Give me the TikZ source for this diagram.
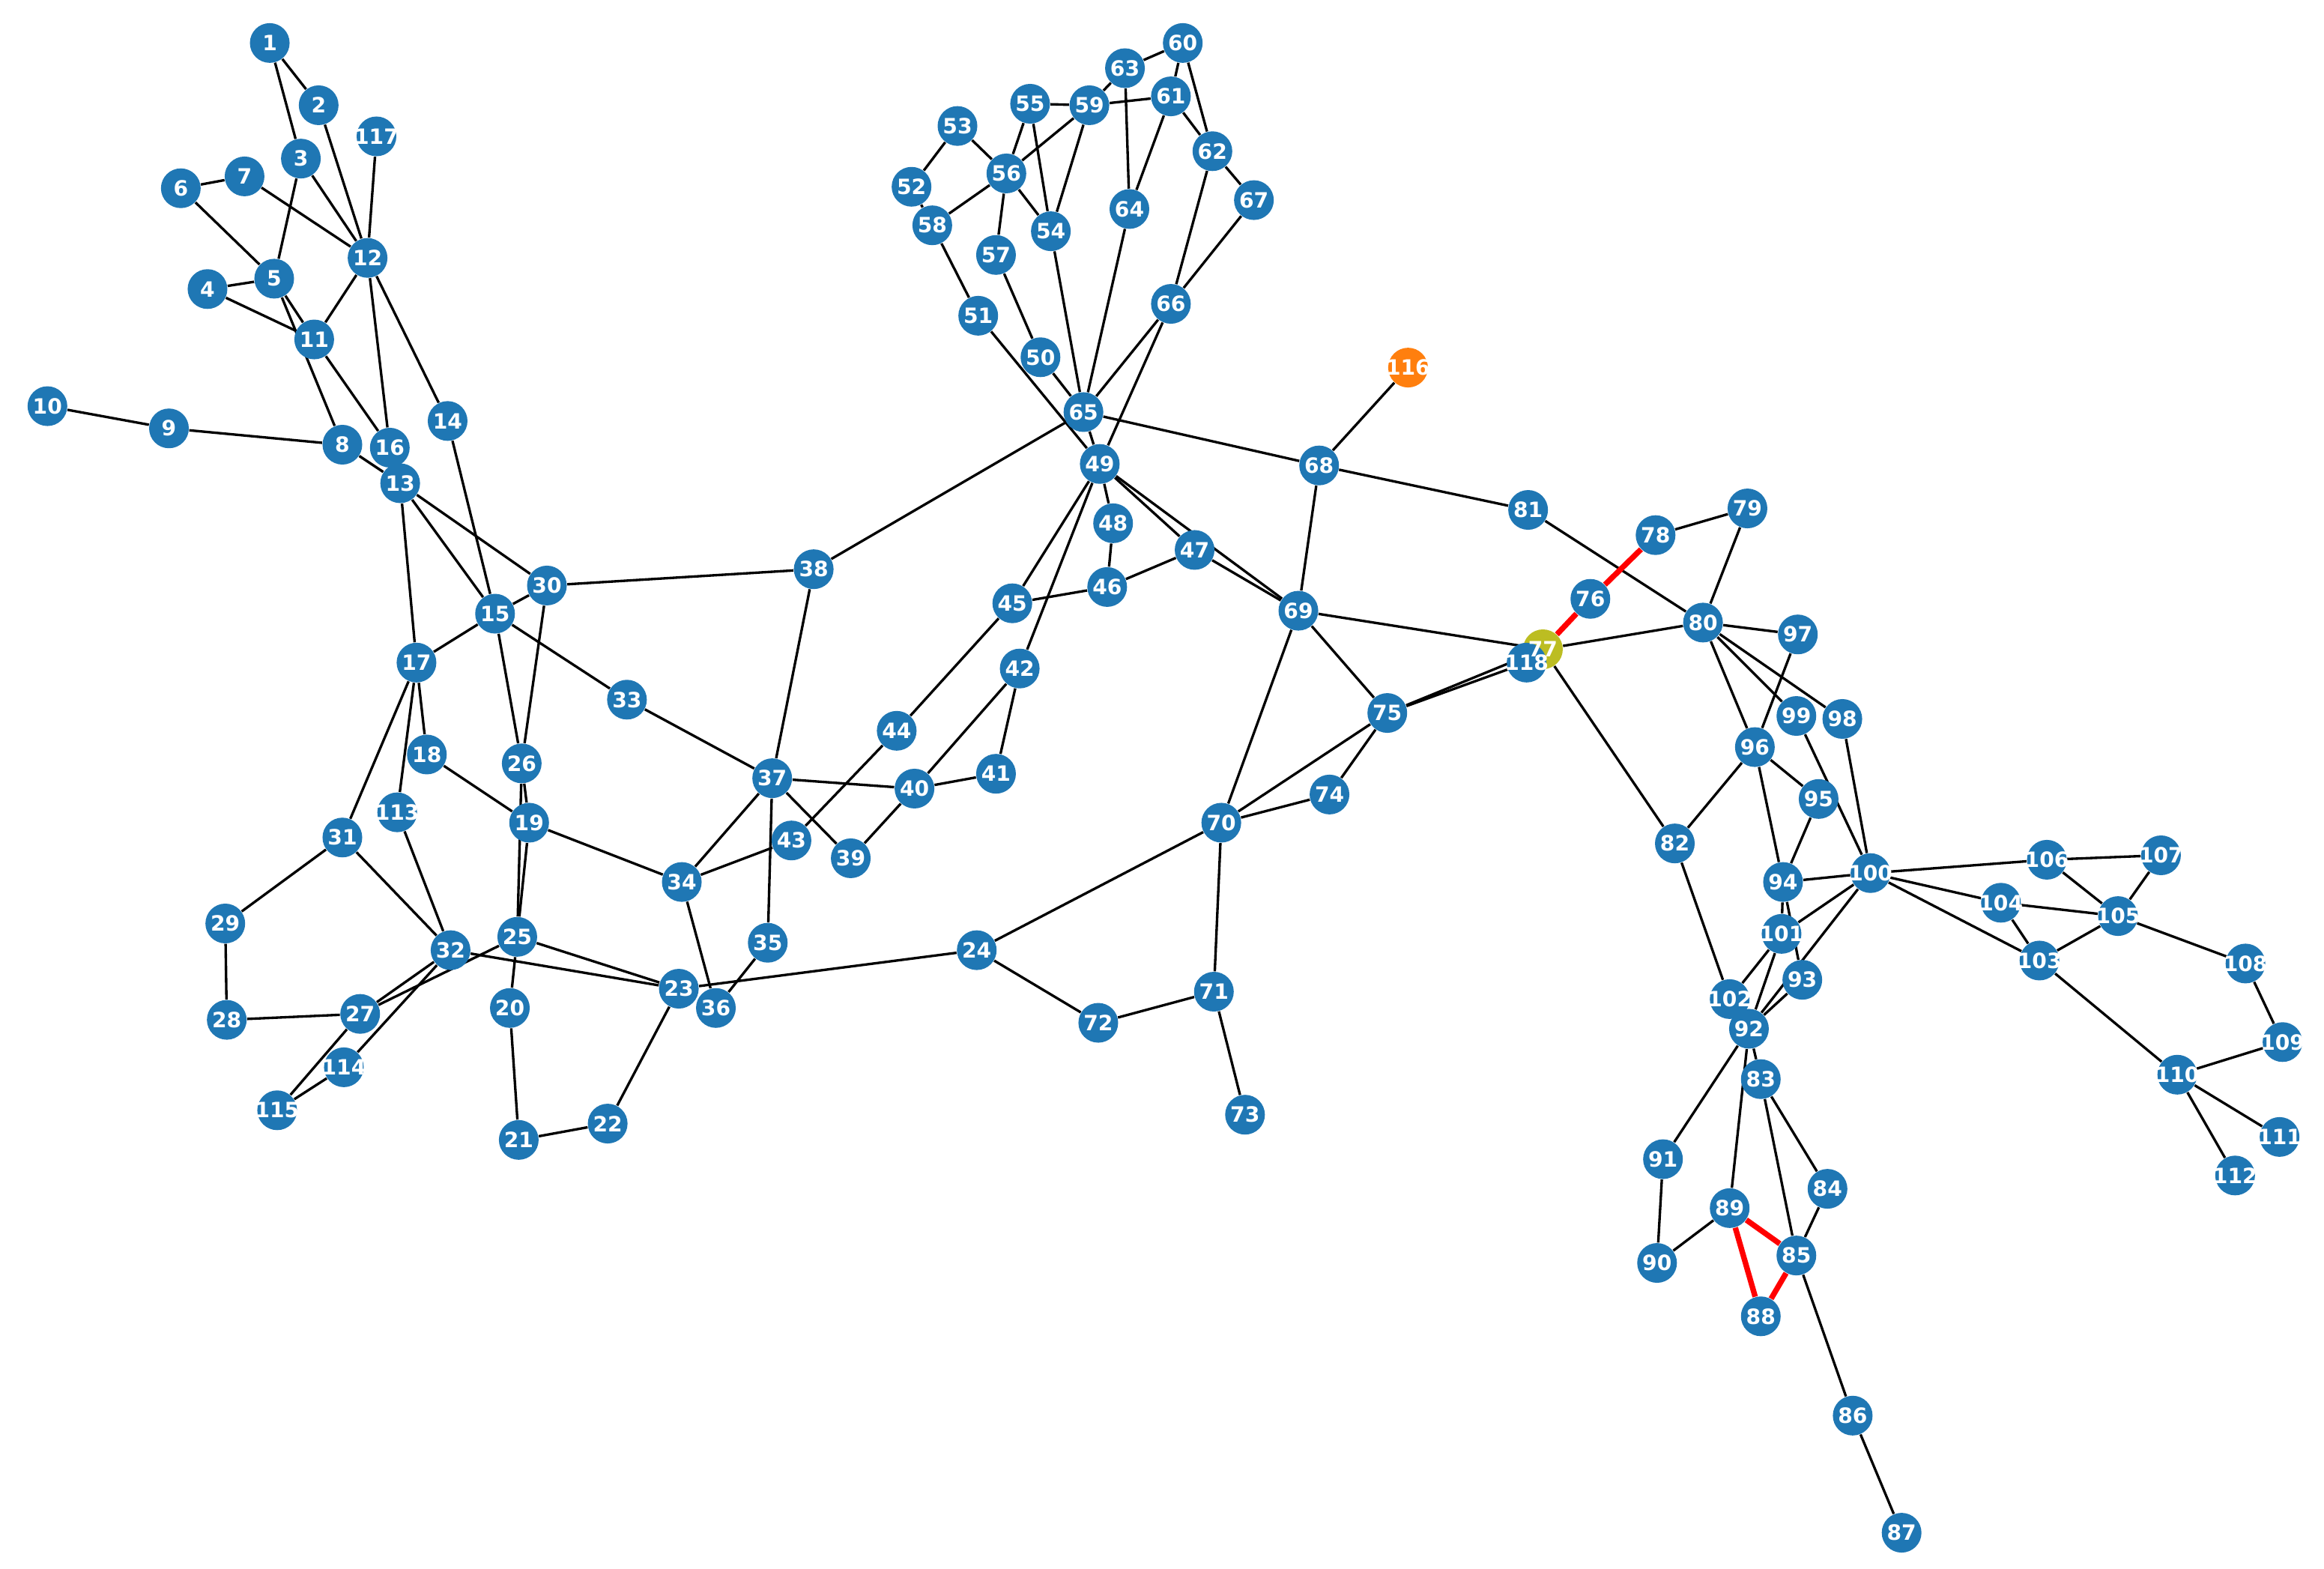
\documentclass[tikz,border=0pt]{standalone}
\usepackage{fontspec}
\newfontfamily\lblfont{DejaVu Sans}
\usetikzlibrary{backgrounds}
\definecolor{nodeblue}{HTML}{1F77B4}
\definecolor{nodeorange}{HTML}{FF7F0E}
\definecolor{nodeolive}{HTML}{BCBD22}
\definecolor{pathred}{HTML}{FF0000}

\begin{document}
\begin{tikzpicture}[
  x=0.01978cm, y=-0.01978cm,
  vtx/.style={circle, fill=nodeblue, minimum size=0.53cm, inner sep=0pt},
  vtxlbl/.style={text=white, inner sep=0pt, font=\lblfont\bfseries\fontsize{8}{9}\selectfont},
  link/.style={line width=0.95pt, black},
  redlink/.style={line width=2.1pt, pathred},
]
  \useasboundingbox (0,0) rectangle (1568,1058);
  % vertices (77, 116 and 118 come last, 118 on top of 77)
  \foreach \i/\px/\py in {1/182/29, 2/215/71, 3/203/107, 4/140/195, 5/185/188,
      6/122/127, 7/165/119, 8/231/300, 9/114/289, 10/32/274, 11/212/229,
      12/248/174, 13/270/326, 14/302/284, 15/334/414, 16/263/302, 17/281/447,
      18/288/509, 19/357/555, 20/344/680, 21/350/769, 22/410/758, 23/458/667,
      24/659/641, 25/349/632, 26/352/515, 27/243/684, 28/153/688, 29/152/623,
      30/369/395, 31/231/565, 32/304/641, 33/423/472, 34/460/595, 35/518/636,
      36/483/680, 37/521/525, 38/549/384, 39/574/579, 40/617/532, 41/672/522,
      42/688/451, 43/534/567, 44/605/493, 45/683/407, 46/747/396, 47/806/371,
      48/751/353, 49/742/313, 50/702/241, 51/660/213, 52/615/126, 53/646/85,
      54/709/156, 55/695/70, 56/679/117, 57/672/172, 58/629/152, 59/735/71,
      60/798/29, 61/790/65, 62/818/102, 63/759/46, 64/762/141, 65/731/278,
      66/790/205, 67/846/135, 68/890/314, 69/876/412, 70/824/555, 71/819/669,
      72/741/690, 73/840/752, 74/897/536, 75/936/481, 76/1073/404,
      78/1117/361, 79/1179/343, 80/1149/420, 81/1031/344, 82/1130/569,
      83/1188/728, 84/1233/802, 85/1212/847, 86/1250/955, 87/1283/1034,
      88/1188/888, 89/1167/815, 90/1118/852, 91/1122/782, 92/1180/694,
      93/1216/661, 94/1203/595, 95/1227/539, 96/1184/504, 97/1213/428,
      98/1243/485, 99/1212/483, 100/1262/589, 101/1202/630, 102/1167/674,
      103/1376/648, 104/1350/609, 105/1429/618, 106/1381/580, 107/1458/577,
      108/1515/650, 109/1540/703, 110/1469/725, 111/1538/767, 112/1508/793,
      113/268/548, 114/232/720, 115/187/749, 117/254/92}
    \node[vtx] (n\i) at (\px,\py) {};
  \node[vtx, fill=nodeolive] (n77) at (1041,438) {};
  \node[vtx, fill=nodeorange] (n116) at (950,248) {};
  \node[vtx] (n118) at (1030,447) {};
  % labels
  \foreach \i in {1,...,118}
    \node[vtxlbl] at (n\i) {\i};
  % connectors
  \begin{scope}[on background layer]
    \foreach \a/\b in {1/2, 1/3, 2/12, 3/12, 3/5, 117/12, 6/7, 7/12, 6/5, 4/5,
        4/11, 5/11, 5/8, 12/11, 11/16, 12/16, 12/14, 10/9, 9/8, 8/13,
        13/17, 13/15, 13/30, 14/15, 15/30, 15/17, 15/33, 15/26, 30/26, 30/38,
        17/18, 17/113, 17/31, 18/19, 26/19, 19/25, 26/25,
        31/29, 31/32, 113/32, 29/28, 28/27, 27/32, 27/25, 32/114, 115/27,
        115/114, 32/23, 25/23, 25/20, 20/21, 21/22, 22/23, 23/24, 34/36,
        35/36, 19/34, 34/37, 34/43, 37/35,
        38/65, 38/37, 33/37, 37/40, 37/39, 43/44, 44/45, 45/46, 45/49, 42/49,
        42/40, 42/41, 40/41, 40/39, 24/70, 24/72,
        53/52, 53/56, 52/58, 58/56, 58/51, 56/55, 56/59, 56/54, 56/57, 55/59,
        55/54, 59/54, 59/63, 63/60, 63/64, 59/61, 60/61, 60/62, 61/62, 61/64,
        62/67, 62/66, 67/66, 64/65, 54/65, 50/57, 50/65, 51/49, 66/65, 66/49,
        65/49, 65/68,
        68/116, 68/81, 68/69, 49/48, 48/46, 46/47, 49/47, 49/69, 47/69, 69/77,
        69/70, 69/75, 75/74, 70/75, 70/74, 75/118, 75/77, 70/71, 71/72, 71/73,
        77/80, 77/82, 81/80, 79/78, 79/80, 80/97, 80/96, 80/99, 80/98, 97/96,
        96/82, 96/95, 96/94, 99/100, 98/100, 95/94, 94/100, 94/101, 94/93,
        100/101, 100/92, 93/92, 101/102, 101/92, 82/102, 92/83, 92/91, 92/89,
        83/85, 83/84, 84/85, 91/90, 90/89, 85/86, 86/87,
        100/106, 100/104, 100/103, 106/107, 106/105, 107/105, 104/105,
        104/103, 103/105, 105/108, 108/109, 109/110, 103/110, 110/111, 110/112}
      \draw[link] (n\a) -- (n\b);
    % highlighted path
    \foreach \a/\b in {77/76, 76/78, 89/85, 89/88, 88/85}
      \draw[redlink] (n\a) -- (n\b);
  \end{scope}
\end{tikzpicture}
\end{document}
